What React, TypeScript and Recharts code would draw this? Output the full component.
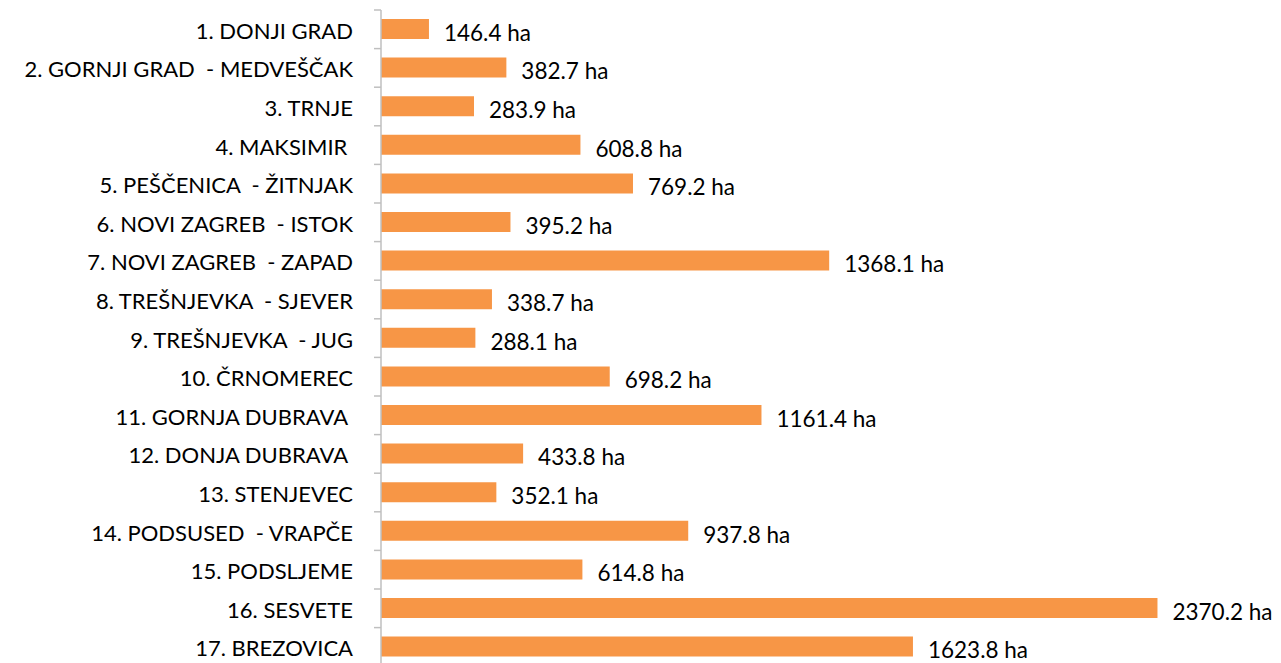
import { Bar, BarChart, LabelList, XAxis, YAxis } from "recharts";

const districts = [
  "1. DONJI GRAD",
  "2. GORNJI GRAD  - MEDVEŠČAK",
  "3. TRNJE",
  "4. MAKSIMIR ",
  "5. PEŠČENICA  - ŽITNJAK",
  "6. NOVI ZAGREB  - ISTOK",
  "7. NOVI ZAGREB  - ZAPAD",
  "8. TREŠNJEVKA  - SJEVER",
  "9. TREŠNJEVKA  - JUG",
  "10. ČRNOMEREC",
  "11. GORNJA DUBRAVA ",
  "12. DONJA DUBRAVA ",
  "13. STENJEVEC",
  "14. PODSUSED  - VRAPČE",
  "15. PODSLJEME",
  "16. SESVETE",
  "17. BREZOVICA",
];

const areaHa = [
  146.4, 382.7, 283.9, 608.8, 769.2, 395.2, 1368.1, 338.7, 288.1, 698.2,
  1161.4, 433.8, 352.1, 937.8, 614.8, 2370.2, 1623.8,
];

const data = districts.map((name, i) => ({ name, area: areaHa[i] }));

const FONT = "Lato, 'Open Sans', sans-serif";
const BAND = 656.2 / 17;

function DistrictTick(props: any) {
  const { x, y, payload } = props;
  // tick mark sits on the band boundary, Excel-style
  const top = y - BAND / 2;
  return (
    <g>
      <line x1={x + 21} x2={x + 28} y1={top} y2={top} stroke="#BFBFBF" strokeWidth={1.5} />
      <text
        x={x}
        y={y + 4}
        textAnchor="end"
        dominantBaseline="middle"
        fill="#000"
        fontSize={22}
        fontFamily={FONT}
        style={{ whiteSpace: "pre" }}
      >
        {payload.value}
      </text>
    </g>
  );
}

function ValueLabel(props: any) {
  const { x, y, width, height, value } = props;
  return (
    <text
      x={x + width + 15}
      y={y + height / 2 + 6}
      dominantBaseline="middle"
      fill="#000"
      fontSize={22.5}
      fontFamily={FONT}
    >
      {`${Number(value).toFixed(1)} ha`}
    </text>
  );
}

export default function App() {
  return (
    <div
      style={{
        position: "fixed",
        left: 0,
        top: 0,
        width: 1281,
        height: 663,
        overflow: "hidden",
        background: "#fff",
      }}
    >
      <BarChart
        width={1281}
        height={672}
        data={data}
        layout="vertical"
        margin={{ top: 10, right: 81, left: 0, bottom: 5.8 }}
        barCategoryGap={0}
      >
        <XAxis type="number" domain={[0, 2500]} hide />
        <YAxis
          type="category"
          dataKey="name"
          width={381}
          axisLine={{ stroke: "#BFBFBF", strokeWidth: 1.5 }}
          tickLine={false}
          tickSize={7}
          tickMargin={21}
          tick={<DistrictTick />}
          interval={0}
        />
        <Bar dataKey="area" fill="#F79646" barSize={20} isAnimationActive={false}>
          <LabelList dataKey="area" content={<ValueLabel />} />
        </Bar>
      </BarChart>
    </div>
  );
}
